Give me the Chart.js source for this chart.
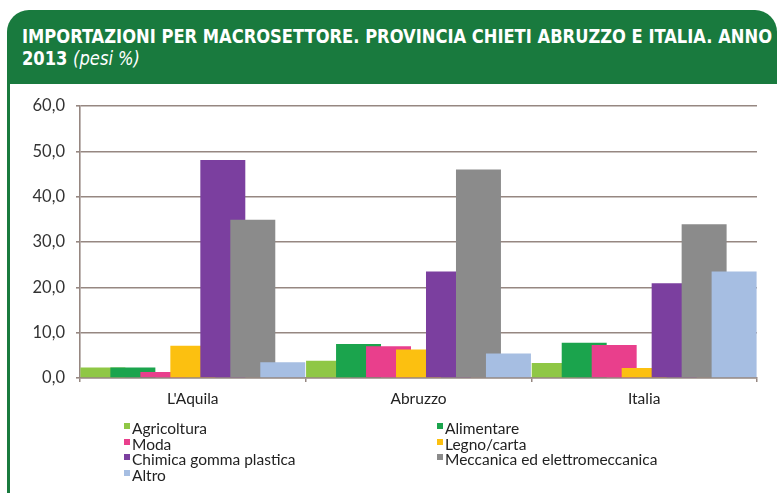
<!DOCTYPE html>
<html>
<head>
<meta charset="utf-8">
<script src="https://cdn.jsdelivr.net/npm/chart.js@4.4.0/dist/chart.umd.min.js"></script>
<style>
  html, body { margin: 0; padding: 0; background: #fff; }
  body { width: 777px; height: 493px; overflow: hidden; position: relative; font-family: Lato, "Open Sans", sans-serif; }
  #header {
    position: absolute; left: 7px; top: 10px; width: 770px; height: 74px;
    background: #197a3e; border-radius: 22px 22px 0 0; color: #fff;
    box-sizing: border-box; padding: 16px 0 0 15px; overflow: hidden;
  }
  #title {
    white-space: nowrap; transform-origin: 0 0; display: inline-block;
    font-family: "DejaVu Sans", sans-serif; font-stretch: condensed;
    font-weight: bold; font-size: 19.5px; line-height: 22px;
  }
  #title i { font-weight: normal; }
  #panel {
    position: absolute; left: 7px; top: 84px; width: 800px; height: 420px;
    border-left: 3px solid #197a3e; background: #fff;
  }
  #chart { position: absolute; left: 0; top: 84px; }
  #legend {
    position: absolute; left: 124px; top: 421px; width: 600px;
    display: grid; grid-template-columns: 313px 300px;
    font-size: 15.5px; line-height: 15.7px; color: #222;
  }
  #legend span.box { display: inline-block; width: 6px; height: 6px; margin-right: 2px; vertical-align: 5px; }
</style>
</head>
<body>
<div id="header"><div id="title"><span id="t1">IMPORTAZIONI PER MACROSETTORE. PROVINCIA CHIETI ABRUZZO E ITALIA. ANNO</span><br>2013 <i>(pesi %)</i></div></div>
<div id="panel"></div>
<canvas id="chart" width="777" height="336"></canvas>
<div id="legend"></div>
<script>
const areas = ["L'Aquila", "Abruzzo", "Italia"];
const sectors = ["Agricoltura", "Alimentare", "Moda", "Legno/carta", "Chimica gomma plastica", "Meccanica ed elettromeccanica", "Altro"];
const colors = ["#8fc745", "#1ba44d", "#e93f8c", "#fcc010", "#7b3f9f", "#8b8b8b", "#a6bee2"];

const agricoltura = [2.3, 3.8, 3.3];
const alimentare = [2.3, 7.5, 7.8];
const moda = [1.3, 7.0, 7.3];
const legnoCarta = [7.1, 6.3, 2.2];
const chimica = [48.1, 23.5, 20.9];
const meccanica = [34.9, 46.0, 33.9];
const altro = [3.5, 5.4, 23.5];

const series = [agricoltura, alimentare, moda, legnoCarta, chimica, meccanica, altro];
const yTicks = [0, 10, 20, 30, 40, 50, 60];

// squeeze the title so its first line spans the header
const t1 = document.getElementById('t1');
const k = 750 / t1.getBoundingClientRect().width;
document.getElementById('title').style.transform = 'scaleX(' + k + ')';

const gridColor = '#968781';

// later datasets sit on top of earlier ones, as in the original
const forwardDraw = {
  id: 'forwardDraw',
  beforeDatasetsDraw(chart) {
    chart.getSortedVisibleDatasetMetas().forEach(m => chart._drawDataset(m));
    return false;
  }
};

new Chart('chart', {
  type: 'bar',
  data: {
    labels: areas,
    datasets: sectors.map((s, i) => ({
      label: s,
      data: series[i],
      backgroundColor: colors[i],
      borderWidth: 0,
      categoryPercentage: 0.93,
      barPercentage: 1.5
    }))
  },
  options: {
    responsive: false,
    devicePixelRatio: 1,
    animation: false,
    layout: { padding: { top: 22, right: 20, left: 0, bottom: 0 } },
    plugins: { legend: { display: false }, tooltip: { enabled: false } },
    scales: {
      x: {
        grid: { offset: true, drawOnChartArea: false, color: gridColor, tickLength: 4, lineWidth: 1.5 },
        border: { color: gridColor, width: 1.5 },
        ticks: { color: '#222', padding: 8, font: { family: 'Lato', size: 15.5 } },
        afterFit(s) { s.height = 42; }
      },
      y: {
        min: 0, max: 60,
        afterBuildTicks(s) { s.ticks = yTicks.map(v => ({ value: v })); },
        grid: { color: gridColor, lineWidth: 1.6, tickLength: 4 },
        border: { color: gridColor, width: 1.6 },
        ticks: {
          color: '#333', padding: 11, font: { family: 'Lato', size: 16.5 },
          callback: v => v.toFixed(1).replace('.', ',')
        },
        afterFit(s) { s.width = 80; }
      }
    }
  },
  plugins: [forwardDraw]
});

// legend, two columns, row by row
const legend = document.getElementById('legend');
sectors.forEach((s, i) => {
  const d = document.createElement('div');
  d.innerHTML = '<span class="box" style="background:' + colors[i] + '"></span>' + s;
  legend.appendChild(d);
});
</script>
</body>
</html>
